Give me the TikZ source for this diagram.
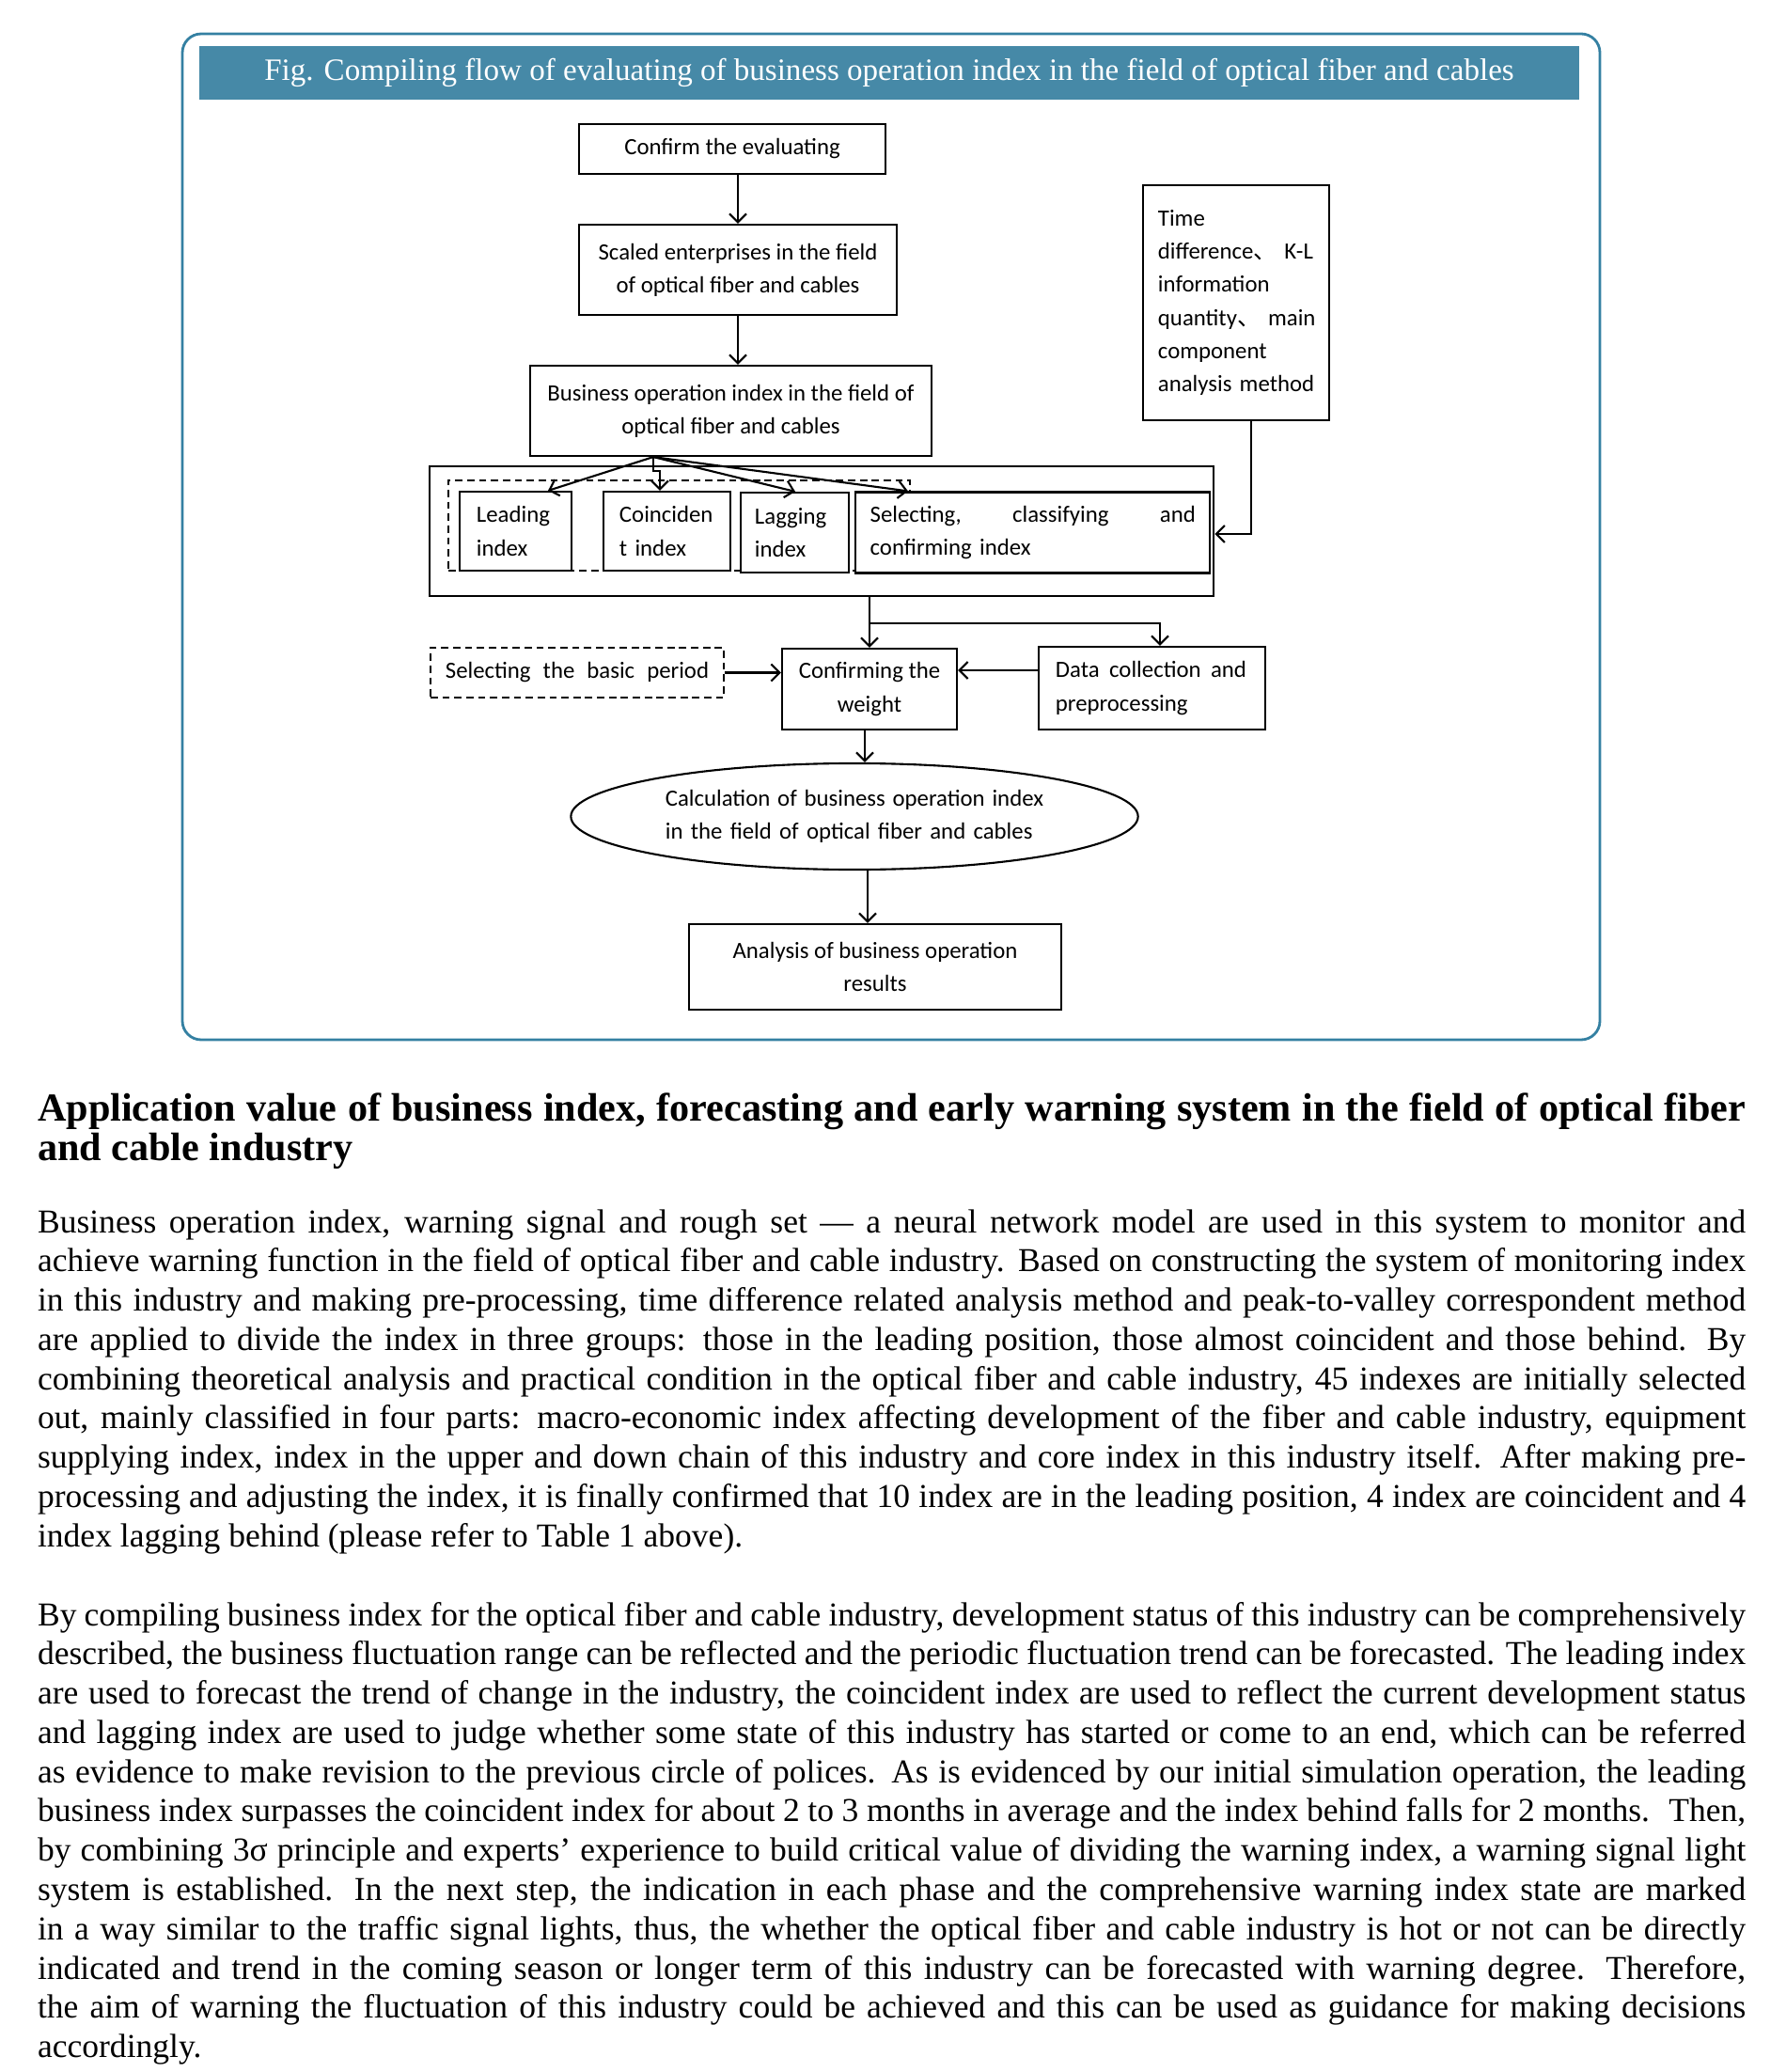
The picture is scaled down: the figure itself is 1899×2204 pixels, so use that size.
\documentclass[tikz,border=0pt]{standalone}
\usepackage{fontspec}
\setmainfont{Liberation Serif}
\newfontfamily\diagfont{Carlito}
\newfontfamily\cjk{Noto Sans CJK SC}
\usetikzlibrary{positioning, arrows.meta, shapes.geometric}
\definecolor{barblue}{RGB}{70,137,167}
\definecolor{framecol}{RGB}{52,128,162}
\newcommand{\dg}{\diagfont\fontsize{7.05}{10}\selectfont}
\newcommand{\spread}[2]{\hbox to #1{#2}}
\tolerance=9999
\hyphenpenalty=10000

\begin{document}
\begin{tikzpicture}[
    x=0.01cm, y=-0.01cm,
    box/.style={
      draw, line width=0.6pt, rectangle, inner sep=0pt,
      font=\dg, align=center,
    },
    lbox/.style={box, align=left},
    dbox/.style={box, dash pattern=on 2.2pt off 1.4pt},
    arr/.style={-{Straight Barb[length=0.9mm, width=1.8mm]}, line width=0.6pt},
    para/.style={
      anchor=base west, inner sep=0pt, align=justify,
      text width=18.16cm, font=\fontsize{10.1}{11.88}\selectfont,
    },
]
\useasboundingbox (0,0) rectangle (1899,2204);

% figure frame and title bar
\draw[framecol, line width=0.8pt, rounded corners=0.2cm] (194,36) rectangle (1702,1106);
\node[fill=barblue, text=white, inner sep=0pt, minimum width=14.68cm, minimum height=0.56cm,
      font=\fontsize{9.4}{11}\selectfont] (head) at (946,77.5)
  {Fig. Compiling flow of evaluating of business operation index in the field of optical fiber and cables};

\node[box, minimum width=3.25cm, minimum height=0.53cm] (conf) at (779,158.5)
  {Confirm the evaluating};
\node[box, minimum width=3.37cm, minimum height=0.96cm] (scal) at (785,287)
  {Scaled enterprises in the field\\of optical fiber and cables};
\node[box, minimum width=4.27cm, minimum height=0.96cm] (biz) at (777.5,437)
  {Business operation index in the field of\\optical fiber and cables};

\node[lbox, text width=1.66cm, minimum width=1.98cm, minimum height=2.50cm] (time) at (1315,322)
  {\mbox{Time}\\\mbox{difference{\cjk 、} K-L}\\\mbox{information}\\\mbox{quantity{\cjk 、} main}\\\mbox{component}\\\mbox{analysis method}};

% index panel
\node[box, minimum width=8.34cm, minimum height=1.38cm] (panel) at (874,565) {};
\node[dbox, minimum width=4.91cm, minimum height=0.96cm] (grp) at (722.5,559) {};
\node[lbox, fill=white, text width=0.83cm, minimum width=1.19cm, minimum height=0.84cm] (lead) at (548.5,565)
  {Leading\\index};
\node[lbox, fill=white, text width=1.01cm, minimum width=1.35cm, minimum height=0.84cm] (coin) at (709.5,565)
  {Coinciden\\t index};
\node[lbox, fill=white, text width=0.85cm, minimum width=1.15cm, minimum height=0.85cm] (lag) at (845.5,566.5)
  {Lagging\\index};
\node[lbox, fill=white, text width=3.46cm, minimum width=3.77cm, minimum height=0.86cm, right=0.05cm of lag] (sel)
  {\spread{3.46cm}{Selecting,\hfill classifying\hfill and}\\confirming index};

% weight row
\node[dbox, minimum width=3.12cm, minimum height=0.53cm] (per) at (614,715.5)
  {\spread{2.80cm}{Selecting\hfill the\hfill basic\hfill period}};
\node[box, minimum width=1.86cm, minimum height=0.86cm] (wgt) at (925,733)
  {Confirming the\\weight};
\node[lbox, text width=2.05cm, minimum width=2.41cm, minimum height=0.88cm] (data) at (1225.5,732)
  {\spread{2.03cm}{Data\hfill collection\hfill and}\\preprocessing};

\node[box, ellipse, align=left, text width=4.02cm, minimum width=6.03cm, minimum height=1.13cm] (calc) at (909,868.5)
  {\spread{4.02cm}{Calculation\hfill of\hfill business\hfill operation\hfill index}\\in the field of optical fiber and cables};
\node[box, minimum width=3.96cm, minimum height=0.91cm] (res) at (931,1028.5)
  {Analysis of business operation\\results};

% connectors
\draw[arr] (scal.north |- conf.south) -- (scal.north);
\draw[arr] (scal.south) -- (scal.south |- biz.north);
\coordinate (fan) at (695,0 |- biz.south);
\draw[arr] (fan) -- (583,0 |- lead.north);
\draw[arr] (fan) -- (695,501) -- (702,501) -- (702,0 |- coin.north);
\draw[arr] (fan) -- (846,0 |- lag.north);
\draw[arr] (fan) -- (966,0 |- sel.north);
\draw[arr] (1331,0 |- time.south) |- (panel.east |- 0,568);
\draw[arr] (panel.south -| wgt.north) -- (wgt.north);
\draw[arr] (wgt.north |- 0,663) -| (1234,0 |- data.north);
\draw[arr] (per.east) -- (per.east -| wgt.west);
\draw[arr] (data.west |- 0,713) -- (wgt.east |- 0,713);
\draw[arr] (920,0 |- wgt.south) -- (920,0 |- calc.north);
\draw[arr] (923,0 |- calc.south) -- (923,0 |- res.north);

% text below the figure
\node[para, font=\bfseries\fontsize{12}{11.95}\selectfont] (sec) at (39.4,1192)
  {Application value of business index, forecasting and early warning system in the field of optical fiber\linebreak and cable industry};

\node[para] (p1) at (39.4,1311)
  {Business operation index, warning signal and rough set \textemdash{} a neural network model are used in this system to monitor and\linebreak
   achieve warning function in the field of optical fiber and cable industry. Based on constructing the system of monitoring index\linebreak
   in this industry and making pre-processing, time difference related analysis method and peak-to-valley correspondent method\linebreak
   are applied to divide the index in three groups: those in the leading position, those almost coincident and those behind. By\linebreak
   combining theoretical analysis and practical condition in the optical fiber and cable industry, 45 indexes are initially selected\linebreak
   out, mainly classified in four parts: macro-economic index affecting development of the fiber and cable industry, equipment\linebreak
   supplying index, index in the upper and down chain of this industry and core index in this industry itself. After making pre-\linebreak
   processing and adjusting the index, it is finally confirmed that 10 index are in the leading position, 4 index are coincident and 4\linebreak
   index lagging behind (please refer to Table 1 above).};

\node[para] (p2) at (39.4,1729)
  {By compiling business index for the optical fiber and cable industry, development status of this industry can be comprehensively\linebreak
   described, the business fluctuation range can be reflected and the periodic fluctuation trend can be forecasted. The leading index\linebreak
   are used to forecast the trend of change in the industry, the coincident index are used to reflect the current development status\linebreak
   and lagging index are used to judge whether some state of this industry has started or come to an end, which can be referred\linebreak
   as evidence to make revision to the previous circle of polices. As is evidenced by our initial simulation operation, the leading\linebreak
   business index surpasses the coincident index for about 2 to 3 months in average and the index behind falls for 2 months.~ Then,\linebreak
   by combining 3σ principle and experts’ experience to build critical value of dividing the warning index, a warning signal light\linebreak
   system is established. In the next step, the indication in each phase and the comprehensive warning index state are marked\linebreak
   in a way similar to the traffic signal lights, thus, the whether the optical fiber and cable industry is hot or not can be directly\linebreak
   indicated and trend in the coming season or longer term of this industry can be forecasted with warning degree. Therefore,\linebreak
   the aim of warning the fluctuation of this industry could be achieved and this can be used as guidance for making decisions\linebreak
   accordingly.};

\end{tikzpicture}
\end{document}
